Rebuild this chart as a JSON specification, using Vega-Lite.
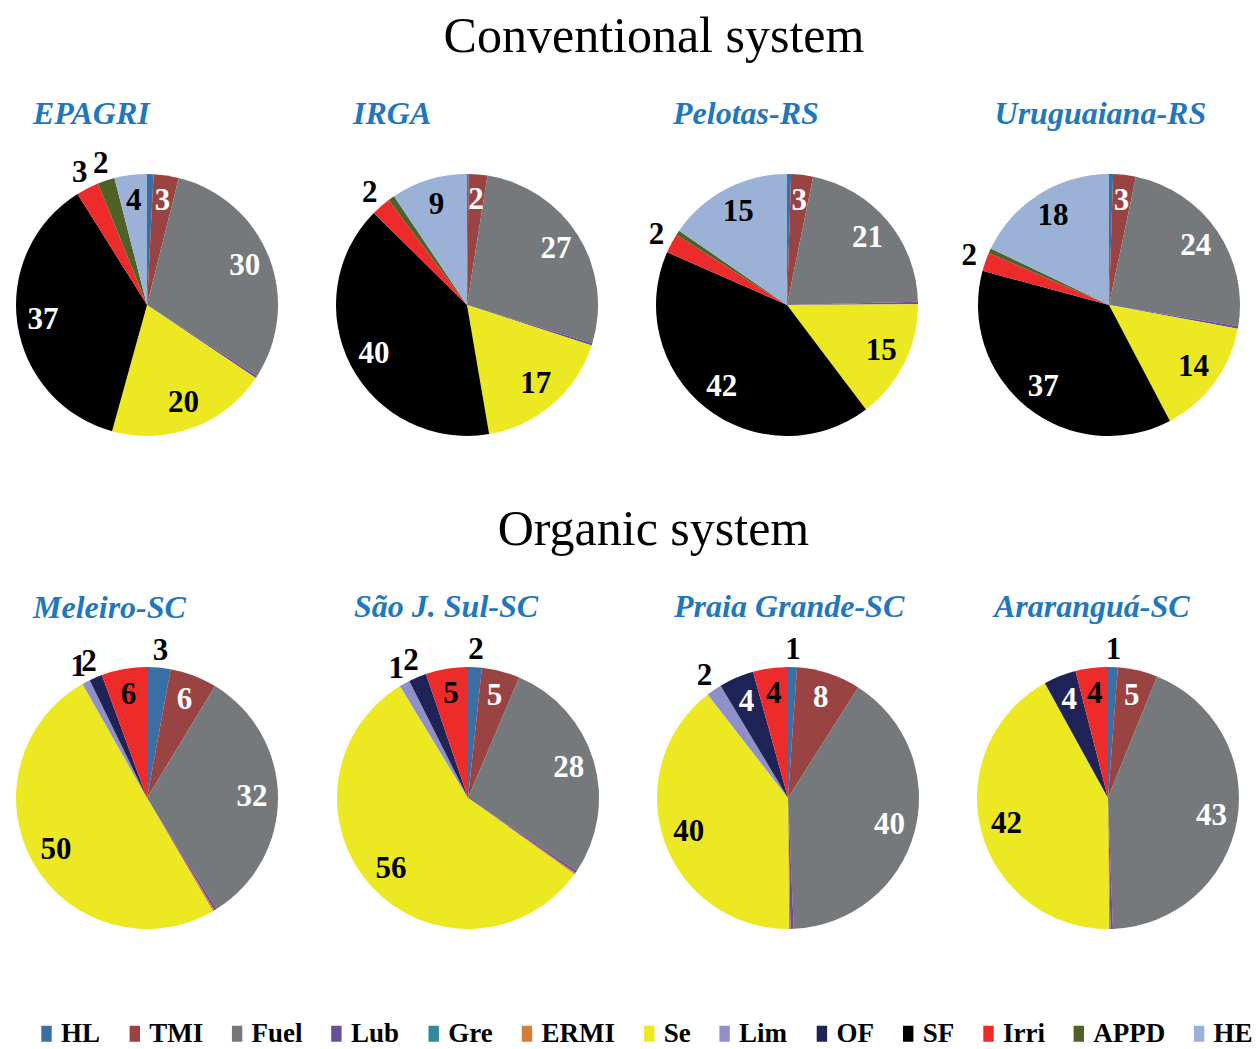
{
  "$schema": "https://vega.github.io/schema/vega-lite/v6.json",
  "padding": {"top": 12, "left": 0, "right": 0, "bottom": 0},
  "background": "white",
  "datasets": {
    "pies": [
      {"site": "EPAGRI", "k": 1, "cat": "HL", "v": 0.8},
      {"site": "EPAGRI", "k": 2, "cat": "TMI", "v": 3.1},
      {"site": "EPAGRI", "k": 3, "cat": "Fuel", "v": 30.2},
      {"site": "EPAGRI", "k": 4, "cat": "Lub", "v": 0.3},
      {"site": "EPAGRI", "k": 7, "cat": "Se", "v": 19.9},
      {"site": "EPAGRI", "k": 10, "cat": "SF", "v": 36.8},
      {"site": "EPAGRI", "k": 11, "cat": "Irri", "v": 2.8},
      {"site": "EPAGRI", "k": 12, "cat": "APPD", "v": 2.1},
      {"site": "EPAGRI", "k": 13, "cat": "HE", "v": 4.0},
      {"site": "IRGA", "k": 1, "cat": "HL", "v": 0.2},
      {"site": "IRGA", "k": 2, "cat": "TMI", "v": 2.3},
      {"site": "IRGA", "k": 3, "cat": "Fuel", "v": 27.2},
      {"site": "IRGA", "k": 4, "cat": "Lub", "v": 0.3},
      {"site": "IRGA", "k": 7, "cat": "Se", "v": 17.3},
      {"site": "IRGA", "k": 10, "cat": "SF", "v": 40.1},
      {"site": "IRGA", "k": 11, "cat": "Irri", "v": 2.4},
      {"site": "IRGA", "k": 12, "cat": "APPD", "v": 0.8},
      {"site": "IRGA", "k": 13, "cat": "HE", "v": 9.4},
      {"site": "Pelotas-RS", "k": 1, "cat": "HL", "v": 0.5},
      {"site": "Pelotas-RS", "k": 2, "cat": "TMI", "v": 2.7},
      {"site": "Pelotas-RS", "k": 3, "cat": "Fuel", "v": 21.4},
      {"site": "Pelotas-RS", "k": 4, "cat": "Lub", "v": 0.3},
      {"site": "Pelotas-RS", "k": 7, "cat": "Se", "v": 14.8},
      {"site": "Pelotas-RS", "k": 10, "cat": "SF", "v": 41.9},
      {"site": "Pelotas-RS", "k": 11, "cat": "Irri", "v": 2.4},
      {"site": "Pelotas-RS", "k": 12, "cat": "APPD", "v": 0.6},
      {"site": "Pelotas-RS", "k": 13, "cat": "HE", "v": 15.4},
      {"site": "Uruguaiana-RS", "k": 1, "cat": "HL", "v": 0.5},
      {"site": "Uruguaiana-RS", "k": 2, "cat": "TMI", "v": 2.8},
      {"site": "Uruguaiana-RS", "k": 3, "cat": "Fuel", "v": 24.3},
      {"site": "Uruguaiana-RS", "k": 4, "cat": "Lub", "v": 0.3},
      {"site": "Uruguaiana-RS", "k": 7, "cat": "Se", "v": 14.4},
      {"site": "Uruguaiana-RS", "k": 10, "cat": "SF", "v": 36.9},
      {"site": "Uruguaiana-RS", "k": 11, "cat": "Irri", "v": 2.3},
      {"site": "Uruguaiana-RS", "k": 12, "cat": "APPD", "v": 0.6},
      {"site": "Uruguaiana-RS", "k": 13, "cat": "HE", "v": 17.9},
      {"site": "Meleiro-SC", "k": 1, "cat": "HL", "v": 2.9},
      {"site": "Meleiro-SC", "k": 2, "cat": "TMI", "v": 5.8},
      {"site": "Meleiro-SC", "k": 3, "cat": "Fuel", "v": 32.4},
      {"site": "Meleiro-SC", "k": 4, "cat": "Lub", "v": 0.3},
      {"site": "Meleiro-SC", "k": 6, "cat": "ERMI", "v": 0.2},
      {"site": "Meleiro-SC", "k": 7, "cat": "Se", "v": 50.2},
      {"site": "Meleiro-SC", "k": 8, "cat": "Lim", "v": 1.0},
      {"site": "Meleiro-SC", "k": 9, "cat": "OF", "v": 1.6},
      {"site": "Meleiro-SC", "k": 11, "cat": "Irri", "v": 5.6},
      {"site": "São J. Sul-SC", "k": 1, "cat": "HL", "v": 1.7},
      {"site": "São J. Sul-SC", "k": 2, "cat": "TMI", "v": 4.7},
      {"site": "São J. Sul-SC", "k": 3, "cat": "Fuel", "v": 28.0},
      {"site": "São J. Sul-SC", "k": 4, "cat": "Lub", "v": 0.3},
      {"site": "São J. Sul-SC", "k": 6, "cat": "ERMI", "v": 0.2},
      {"site": "São J. Sul-SC", "k": 7, "cat": "Se", "v": 56.4},
      {"site": "São J. Sul-SC", "k": 8, "cat": "Lim", "v": 1.3},
      {"site": "São J. Sul-SC", "k": 9, "cat": "OF", "v": 2.2},
      {"site": "São J. Sul-SC", "k": 11, "cat": "Irri", "v": 5.2},
      {"site": "Praia Grande-SC", "k": 1, "cat": "HL", "v": 1.1},
      {"site": "Praia Grande-SC", "k": 2, "cat": "TMI", "v": 7.9},
      {"site": "Praia Grande-SC", "k": 3, "cat": "Fuel", "v": 40.3},
      {"site": "Praia Grande-SC", "k": 4, "cat": "Lub", "v": 0.4},
      {"site": "Praia Grande-SC", "k": 6, "cat": "ERMI", "v": 0.2},
      {"site": "Praia Grande-SC", "k": 7, "cat": "Se", "v": 39.6},
      {"site": "Praia Grande-SC", "k": 8, "cat": "Lim", "v": 1.9},
      {"site": "Praia Grande-SC", "k": 9, "cat": "OF", "v": 4.3},
      {"site": "Praia Grande-SC", "k": 11, "cat": "Irri", "v": 4.3},
      {"site": "Araranguá-SC", "k": 1, "cat": "HL", "v": 1.2},
      {"site": "Araranguá-SC", "k": 2, "cat": "TMI", "v": 4.9},
      {"site": "Araranguá-SC", "k": 3, "cat": "Fuel", "v": 43.3},
      {"site": "Araranguá-SC", "k": 4, "cat": "Lub", "v": 0.3},
      {"site": "Araranguá-SC", "k": 6, "cat": "ERMI", "v": 0.2},
      {"site": "Araranguá-SC", "k": 7, "cat": "Se", "v": 42.1},
      {"site": "Araranguá-SC", "k": 9, "cat": "OF", "v": 4.0},
      {"site": "Araranguá-SC", "k": 11, "cat": "Irri", "v": 4.0}
    ]
  },
  "data": {"name": "pies"},
  "config": {
    "view": {"stroke": null},
    "title": {"font": "Liberation Serif", "fontSize": 32, "fontStyle": "italic", "fontWeight": "bold", "color": "#1F77C0", "anchor": "start", "dx": 33, "offset": 10}
  },
  "spacing": 46,
  "vconcat": [
    {
      "title": {"text": "Conventional system", "fontSize": 50, "fontStyle": "normal", "fontWeight": "normal", "color": "black", "anchor": "middle", "dx": 26, "offset": 36},
      "spacing": 26,
      "hconcat": [
        {"title": "EPAGRI", "width": 294, "height": 270, "transform": [{"filter": "datum.site == 'EPAGRI'"}],
         "encoding": {"theta": {"field": "v", "type": "quantitative", "stack": "normalize"}, "order": {"field": "k", "type": "quantitative"}},
         "layer": [
          {"mark": {"type": "arc", "radius": 131}, "encoding": {"color": {"field": "cat", "type": "nominal",
            "scale": {"domain": ["HL", "TMI", "Fuel", "Lub", "Gre", "ERMI", "Se", "Lim", "OF", "SF", "Irri", "APPD", "HE"],
                      "range": ["#3A6FA6", "#9A4343", "#75797B", "#6B4E98", "#33889A", "#D27F3C", "#ECE822", "#8F90C8", "#1F2358", "#000000", "#EE2B2B", "#4E6228", "#9BB2D6"]},
            "legend": {"orient": "none", "legendX": 33, "legendY": 850, "direction": "horizontal", "columns": 13, "title": null,
                       "labelFont": "Liberation Serif", "labelFontWeight": "bold", "labelFontSize": 27, "labelColor": "black", "labelOffset": 1,
                       "columnPadding": 20.3, "symbolType": "M-0.65,-1H0.65V1H-0.65Z", "symbolSize": 256, "symbolStrokeWidth": 0, "symbolOpacity": 1}}}},
          {"mark": {"type": "text", "radius": 105, "font": "Liberation Serif", "fontSize": 31, "fontWeight": "bold"},
           "encoding": {"detail": {"field": "cat"}, "text": {"condition": {"test": "datum.v >= 3 || datum.cat == 'TMI'", "field": "v", "type": "quantitative", "format": ".0f"}, "value": ""},
            "color": {"condition": {"test": "indexof(['TMI','Fuel','SF','OF'], datum.cat) >= 0", "value": "white"}, "value": "black"}}},
          {"mark": {"type": "text", "radius": 148, "font": "Liberation Serif", "fontSize": 31, "fontWeight": "bold", "color": "black"},
           "encoding": {"detail": {"field": "cat"}, "text": {"condition": {"test": "datum.v < 3 && datum.v >= 0.95 && datum.cat != 'TMI'", "field": "v", "type": "quantitative", "format": ".0f"}, "value": ""}}}
         ]},
        {"title": "IRGA", "width": 294, "height": 270, "transform": [{"filter": "datum.site == 'IRGA'"}],
         "encoding": {"theta": {"field": "v", "type": "quantitative", "stack": "normalize"}, "order": {"field": "k", "type": "quantitative"}},
         "layer": [
          {"mark": {"type": "arc", "radius": 131}, "encoding": {"color": {"field": "cat", "type": "nominal"}}},
          {"mark": {"type": "text", "radius": 105, "font": "Liberation Serif", "fontSize": 31, "fontWeight": "bold"},
           "encoding": {"detail": {"field": "cat"}, "text": {"condition": {"test": "datum.v >= 3 || datum.cat == 'TMI'", "field": "v", "type": "quantitative", "format": ".0f"}, "value": ""},
            "color": {"condition": {"test": "indexof(['TMI','Fuel','SF','OF'], datum.cat) >= 0", "value": "white"}, "value": "black"}}},
          {"mark": {"type": "text", "radius": 148, "font": "Liberation Serif", "fontSize": 31, "fontWeight": "bold", "color": "black"},
           "encoding": {"detail": {"field": "cat"}, "text": {"condition": {"test": "datum.v < 3 && datum.v >= 0.95 && datum.cat != 'TMI'", "field": "v", "type": "quantitative", "format": ".0f"}, "value": ""}}}
         ]},
        {"title": "Pelotas-RS", "width": 294, "height": 270, "transform": [{"filter": "datum.site == 'Pelotas-RS'"}],
         "encoding": {"theta": {"field": "v", "type": "quantitative", "stack": "normalize"}, "order": {"field": "k", "type": "quantitative"}},
         "layer": [
          {"mark": {"type": "arc", "radius": 131}, "encoding": {"color": {"field": "cat", "type": "nominal"}}},
          {"mark": {"type": "text", "radius": 105, "font": "Liberation Serif", "fontSize": 31, "fontWeight": "bold"},
           "encoding": {"detail": {"field": "cat"}, "text": {"condition": {"test": "datum.v >= 3 || datum.cat == 'TMI'", "field": "v", "type": "quantitative", "format": ".0f"}, "value": ""},
            "color": {"condition": {"test": "indexof(['TMI','Fuel','SF','OF'], datum.cat) >= 0", "value": "white"}, "value": "black"}}},
          {"mark": {"type": "text", "radius": 148, "font": "Liberation Serif", "fontSize": 31, "fontWeight": "bold", "color": "black"},
           "encoding": {"detail": {"field": "cat"}, "text": {"condition": {"test": "datum.v < 3 && datum.v >= 0.95 && datum.cat != 'TMI'", "field": "v", "type": "quantitative", "format": ".0f"}, "value": ""}}}
         ]},
        {"title": "Uruguaiana-RS", "width": 294, "height": 270, "transform": [{"filter": "datum.site == 'Uruguaiana-RS'"}],
         "encoding": {"theta": {"field": "v", "type": "quantitative", "stack": "normalize"}, "order": {"field": "k", "type": "quantitative"}},
         "layer": [
          {"mark": {"type": "arc", "radius": 131}, "encoding": {"color": {"field": "cat", "type": "nominal"}}},
          {"mark": {"type": "text", "radius": 105, "font": "Liberation Serif", "fontSize": 31, "fontWeight": "bold"},
           "encoding": {"detail": {"field": "cat"}, "text": {"condition": {"test": "datum.v >= 3 || datum.cat == 'TMI'", "field": "v", "type": "quantitative", "format": ".0f"}, "value": ""},
            "color": {"condition": {"test": "indexof(['TMI','Fuel','SF','OF'], datum.cat) >= 0", "value": "white"}, "value": "black"}}},
          {"mark": {"type": "text", "radius": 148, "font": "Liberation Serif", "fontSize": 31, "fontWeight": "bold", "color": "black"},
           "encoding": {"detail": {"field": "cat"}, "text": {"condition": {"test": "datum.v < 3 && datum.v >= 0.95 && datum.cat != 'TMI'", "field": "v", "type": "quantitative", "format": ".0f"}, "value": ""}}}
         ]}
      ]
    },
    {
      "title": {"text": "Organic system", "fontSize": 50, "fontStyle": "normal", "fontWeight": "normal", "color": "black", "anchor": "middle", "dx": 26, "offset": 36},
      "spacing": 26,
      "hconcat": [
        {"title": "Meleiro-SC", "width": 294, "height": 270, "transform": [{"filter": "datum.site == 'Meleiro-SC'"}],
         "encoding": {"theta": {"field": "v", "type": "quantitative", "stack": "normalize"}, "order": {"field": "k", "type": "quantitative"}},
         "layer": [
          {"mark": {"type": "arc", "radius": 131}, "encoding": {"color": {"field": "cat", "type": "nominal"}}},
          {"mark": {"type": "text", "radius": 105, "font": "Liberation Serif", "fontSize": 31, "fontWeight": "bold"},
           "encoding": {"detail": {"field": "cat"}, "text": {"condition": {"test": "datum.v >= 3 || datum.cat == 'TMI'", "field": "v", "type": "quantitative", "format": ".0f"}, "value": ""},
            "color": {"condition": {"test": "indexof(['TMI','Fuel','SF','OF'], datum.cat) >= 0", "value": "white"}, "value": "black"}}},
          {"mark": {"type": "text", "radius": 148, "font": "Liberation Serif", "fontSize": 31, "fontWeight": "bold", "color": "black"},
           "encoding": {"detail": {"field": "cat"}, "text": {"condition": {"test": "datum.v < 3 && datum.v >= 0.95 && datum.cat != 'TMI'", "field": "v", "type": "quantitative", "format": ".0f"}, "value": ""}}}
         ]},
        {"title": "São J. Sul-SC", "width": 294, "height": 270, "transform": [{"filter": "datum.site == 'São J. Sul-SC'"}],
         "encoding": {"theta": {"field": "v", "type": "quantitative", "stack": "normalize"}, "order": {"field": "k", "type": "quantitative"}},
         "layer": [
          {"mark": {"type": "arc", "radius": 131}, "encoding": {"color": {"field": "cat", "type": "nominal"}}},
          {"mark": {"type": "text", "radius": 105, "font": "Liberation Serif", "fontSize": 31, "fontWeight": "bold"},
           "encoding": {"detail": {"field": "cat"}, "text": {"condition": {"test": "datum.v >= 3 || datum.cat == 'TMI'", "field": "v", "type": "quantitative", "format": ".0f"}, "value": ""},
            "color": {"condition": {"test": "indexof(['TMI','Fuel','SF','OF'], datum.cat) >= 0", "value": "white"}, "value": "black"}}},
          {"mark": {"type": "text", "radius": 148, "font": "Liberation Serif", "fontSize": 31, "fontWeight": "bold", "color": "black"},
           "encoding": {"detail": {"field": "cat"}, "text": {"condition": {"test": "datum.v < 3 && datum.v >= 0.95 && datum.cat != 'TMI'", "field": "v", "type": "quantitative", "format": ".0f"}, "value": ""}}}
         ]},
        {"title": "Praia Grande-SC", "width": 294, "height": 270, "transform": [{"filter": "datum.site == 'Praia Grande-SC'"}],
         "encoding": {"theta": {"field": "v", "type": "quantitative", "stack": "normalize"}, "order": {"field": "k", "type": "quantitative"}},
         "layer": [
          {"mark": {"type": "arc", "radius": 131}, "encoding": {"color": {"field": "cat", "type": "nominal"}}},
          {"mark": {"type": "text", "radius": 105, "font": "Liberation Serif", "fontSize": 31, "fontWeight": "bold"},
           "encoding": {"detail": {"field": "cat"}, "text": {"condition": {"test": "datum.v >= 3 || datum.cat == 'TMI'", "field": "v", "type": "quantitative", "format": ".0f"}, "value": ""},
            "color": {"condition": {"test": "indexof(['TMI','Fuel','SF','OF'], datum.cat) >= 0", "value": "white"}, "value": "black"}}},
          {"mark": {"type": "text", "radius": 148, "font": "Liberation Serif", "fontSize": 31, "fontWeight": "bold", "color": "black"},
           "encoding": {"detail": {"field": "cat"}, "text": {"condition": {"test": "datum.v < 3 && datum.v >= 0.95 && datum.cat != 'TMI'", "field": "v", "type": "quantitative", "format": ".0f"}, "value": ""}}}
         ]},
        {"title": "Araranguá-SC", "width": 294, "height": 270, "transform": [{"filter": "datum.site == 'Araranguá-SC'"}],
         "encoding": {"theta": {"field": "v", "type": "quantitative", "stack": "normalize"}, "order": {"field": "k", "type": "quantitative"}},
         "layer": [
          {"mark": {"type": "arc", "radius": 131}, "encoding": {"color": {"field": "cat", "type": "nominal"}}},
          {"mark": {"type": "text", "radius": 105, "font": "Liberation Serif", "fontSize": 31, "fontWeight": "bold"},
           "encoding": {"detail": {"field": "cat"}, "text": {"condition": {"test": "datum.v >= 3 || datum.cat == 'TMI'", "field": "v", "type": "quantitative", "format": ".0f"}, "value": ""},
            "color": {"condition": {"test": "indexof(['TMI','Fuel','SF','OF'], datum.cat) >= 0", "value": "white"}, "value": "black"}}},
          {"mark": {"type": "text", "radius": 148, "font": "Liberation Serif", "fontSize": 31, "fontWeight": "bold", "color": "black"},
           "encoding": {"detail": {"field": "cat"}, "text": {"condition": {"test": "datum.v < 3 && datum.v >= 0.95 && datum.cat != 'TMI'", "field": "v", "type": "quantitative", "format": ".0f"}, "value": ""}}}
         ]}
      ]
    }
  ]
}
